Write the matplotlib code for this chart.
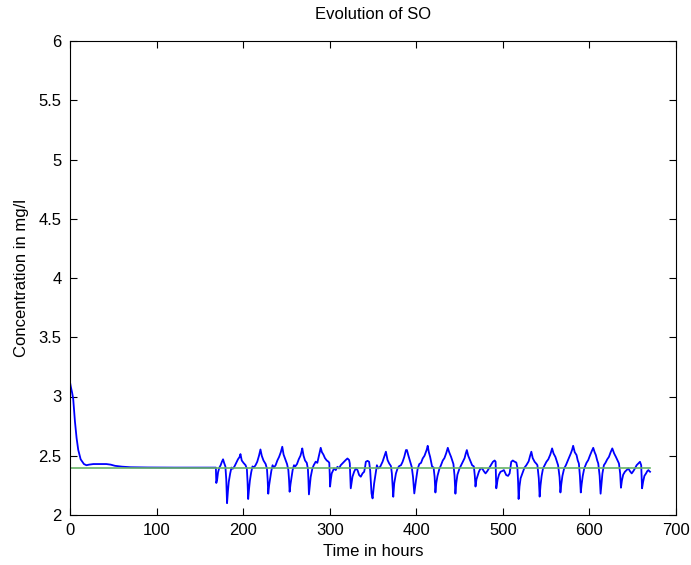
import matplotlib
matplotlib.use("Agg")
import matplotlib.pyplot as plt

plt.rcParams['font.family'] = ['Liberation Sans', 'DejaVu Sans']

title = "Evolution of SO"
xlabel = "Time in hours"
ylabel = "Concentration in mg/l"
x_ticks = [0, 100, 200, 300, 400, 500, 600, 700]
y_ticks = [2, 2.5, 3, 3.5, 4, 4.5, 5, 5.5, 6]
setpoint = 2.4
setpoint_time = [0, 670]

# start-up transient and constant-influent period
time_start = [0, 1, 2.5, 3.7, 5.7, 7.6, 9.5, 12.3, 16.1, 19, 22, 27, 35, 42, 47, 52, 60, 70, 90, 120, 168.5]
so_start = [3.12, 3.08, 3.03, 2.98, 2.79, 2.65, 2.55, 2.47, 2.43, 2.42, 2.425, 2.43, 2.43, 2.43, 2.425,
            2.415, 2.408, 2.403, 2.401, 2.400, 2.400]

# dynamic influent period (three weeks)
time_dyn = [
    169, 170, 171, 172.5, 174, 175.5, 176.8, 178, 179.5, 180.5, 181.4,
    182.4, 183.4, 185, 186.5, 188, 190, 192, 194, 195.9, 196.9, 198.4, 200.4, 202.8, 204.3, 205.1, 205.8,
    206.8, 207.8, 209.3, 210.8, 212.3, 214.3, 216.3, 218.3, 219.2, 220.0, 221.5, 223.5, 226.0, 227.5, 228.3, 229.0,
    230, 231, 232.5, 234, 235.5, 237.5, 239.5, 241.5, 243.5, 245.2, 246.7, 248.7, 250.7, 252.2, 253.0, 253.7,
    254.7, 255.7, 257.2, 258.7, 260.2, 262.2, 264.2, 266.2, 267.3, 268.3, 269.8, 271.5, 273.5, 274.8, 275.4, 276.0,
    277, 278, 279.9, 281.5, 283.8, 285.7, 287.5, 288.6, 289.6, 291.0, 292.7, 294.5, 296.6, 298.5, 299.5, 300.0, 300.4,
    301.3, 302.3, 305.0, 307.0, 308.9, 310.8, 312.7, 314.7, 316.6, 318.5, 320.5, 322.4, 323.2, 324.3,
    326.3, 328.2, 330.1, 332.1, 334.0, 335.9, 337.9, 339.8, 340.9, 341.7, 343.7, 345.5, 346.7, 348.3, 349.5,
    351.3, 353.3, 354.5, 356.0, 358.3, 361.0, 362.9, 364.9, 366.8, 368.7, 370.7, 371.8, 373.4,
    374.5, 376.5, 378.4, 380.3, 382.3, 384.2, 386.1, 388.1, 389.2, 390.7, 393.0, 394.7, 396.2, 397.7,
    399.7, 401.6, 403.5, 405.5, 407.4, 409.5, 410.5, 412, 413.2, 414.5, 416, 418.2, 420, 421.2, 422.1,
    423.1, 424.5, 426.7, 428.5, 430.6, 432.5, 434.5, 436.4, 438.0, 440.2, 442.0, 442.9, 444.2, 445.2,
    446.2, 447.5, 449.8, 451.8, 453.8, 455.8, 457.2, 458.4, 460.0, 462.2, 464.5, 466.5, 467.6, 468.4,
    469.5, 472.3, 474.0, 476.1, 478.0, 480.0, 482.0, 483.9, 486.0, 488.5, 490.5, 491.6, 492.4,
    494, 495.5, 497.3, 499, 501.2, 503.9, 506, 507.8, 509.7, 511.5, 513.5, 515.5, 516.8, 517.6, 518.2,
    519.2, 520.5, 523.3, 525.0, 527.1, 529.8, 531.5, 532.9, 534.5, 536.7, 539.0, 539.9, 541.5, 542.5,
    543.5, 544.8, 546.4, 548.3, 550.3, 552.5, 554.8, 556.9, 558.5, 560.7, 562.5, 563.8, 565.5, 566.5,
    567.5, 568.8, 570.8, 572.8, 574.5, 576.1, 578.5, 580.0, 581.2, 583.0, 585.1, 586.5, 587.8, 589.0, 590.0,
    591.0, 592.3, 594.0, 596.6, 598.6, 600.5, 602.4, 604.4, 606.0, 607.4, 609.0, 610.2, 611.8, 612.9,
    613.9, 615.0, 616.7, 618.5, 620.6, 622.5, 624.5, 626.4, 628.5, 630.6, 632.5, 634.1, 635.5, 636.4,
    637.5, 639.0, 641.0, 643.0, 644.9, 646.8, 648.8, 650.7, 652.6, 654.5, 656.5, 658.4, 659.8, 660.8,
    662.0, 663.5, 665.4, 666.8, 668.1, 669.2, 670.0,
]
so_dyn = [
    2.27, 2.30, 2.36, 2.40, 2.42, 2.45, 2.47, 2.44, 2.41, 2.30, 2.10,
    2.20, 2.28, 2.35, 2.40, 2.39, 2.41, 2.44, 2.47, 2.49, 2.514, 2.46, 2.44, 2.42, 2.39, 2.28, 2.135,
    2.22, 2.29, 2.36, 2.41, 2.40, 2.42, 2.45, 2.50, 2.53, 2.553, 2.50, 2.46, 2.43, 2.39, 2.30, 2.18,
    2.25, 2.30, 2.37, 2.42, 2.40, 2.42, 2.46, 2.49, 2.53, 2.576, 2.51, 2.47, 2.43, 2.38, 2.30, 2.196,
    2.26, 2.31, 2.38, 2.42, 2.41, 2.43, 2.47, 2.50, 2.53, 2.562, 2.50, 2.46, 2.44, 2.39, 2.30, 2.174,
    2.25, 2.32, 2.39, 2.42, 2.45, 2.44, 2.50, 2.54, 2.567, 2.53, 2.51, 2.48, 2.46, 2.45, 2.44, 2.35, 2.24,
    2.30, 2.351, 2.393, 2.379, 2.407, 2.393, 2.42, 2.435, 2.449, 2.464, 2.477, 2.464, 2.435, 2.225,
    2.323, 2.365, 2.393, 2.379, 2.337, 2.323, 2.351, 2.365, 2.407, 2.449, 2.457, 2.449, 2.379, 2.183, 2.14,
    2.266, 2.365, 2.42, 2.393, 2.407, 2.449, 2.49, 2.534, 2.464, 2.435, 2.413, 2.351, 2.154,
    2.266, 2.351, 2.393, 2.413, 2.42, 2.449, 2.49, 2.548, 2.548, 2.506, 2.449, 2.407, 2.323, 2.182,
    2.295, 2.39, 2.43, 2.44, 2.477, 2.50, 2.52, 2.55, 2.584, 2.53, 2.49, 2.41, 2.40, 2.32, 2.19,
    2.27, 2.33, 2.39, 2.42, 2.46, 2.48, 2.52, 2.567, 2.53, 2.49, 2.45, 2.43, 2.33, 2.18,
    2.27, 2.34, 2.39, 2.42, 2.45, 2.48, 2.52, 2.548, 2.50, 2.46, 2.42, 2.41, 2.33, 2.24,
    2.30, 2.365, 2.39, 2.393, 2.37, 2.351, 2.37, 2.393, 2.42, 2.449, 2.46, 2.45, 2.225,
    2.30, 2.34, 2.365, 2.37, 2.379, 2.337, 2.33, 2.351, 2.449, 2.46, 2.45, 2.443, 2.40, 2.28, 2.135,
    2.24, 2.31, 2.365, 2.40, 2.42, 2.453, 2.50, 2.534, 2.48, 2.449, 2.43, 2.42, 2.31, 2.155,
    2.25, 2.33, 2.393, 2.42, 2.449, 2.47, 2.51, 2.562, 2.52, 2.49, 2.45, 2.42, 2.32, 2.19,
    2.26, 2.33, 2.393, 2.42, 2.45, 2.477, 2.52, 2.55, 2.584, 2.53, 2.506, 2.46, 2.435, 2.33, 2.19,
    2.26, 2.33, 2.393, 2.44, 2.463, 2.50, 2.534, 2.567, 2.53, 2.506, 2.46, 2.435, 2.33, 2.18,
    2.26, 2.35, 2.42, 2.44, 2.47, 2.49, 2.53, 2.562, 2.52, 2.49, 2.46, 2.435, 2.35, 2.23,
    2.29, 2.34, 2.365, 2.38, 2.393, 2.37, 2.351, 2.37, 2.393, 2.42, 2.435, 2.449, 2.42, 2.225,
    2.28, 2.33, 2.351, 2.37, 2.379, 2.37, 2.365,
]

fig = plt.figure(figsize=(6.91, 5.65), dpi=100)
ax = fig.add_axes([70 / 691, 50 / 565, 606 / 691, 474 / 565])

ax.plot(time_start + time_dyn, so_start + so_dyn, color='#0000ff', linewidth=1.3)
ax.plot(setpoint_time, [setpoint, setpoint], color='#66b366', linewidth=1.2)

ax.set_xlim(x_ticks[0], x_ticks[-1])
ax.set_ylim(y_ticks[0], y_ticks[-1])
ax.set_xticks(x_ticks)
ax.set_yticks(y_ticks)
ax.set_yticklabels(['2', '2.5', '3', '3.5', '4', '4.5', '5', '5.5', '6'])
ax.tick_params(direction='in', top=True, right=True, length=5, width=0.8, labelsize=12)
ax.tick_params(axis='x', pad=6)
ax.tick_params(axis='y', pad=6)
for s in ax.spines.values():
    s.set_linewidth(0.8)

ax.set_title(title, fontsize=12, pad=16)
ax.set_xlabel(xlabel, fontsize=12, labelpad=4)
ax.set_ylabel(ylabel, fontsize=12, labelpad=7)

fig.savefig("out.png", dpi=100)
